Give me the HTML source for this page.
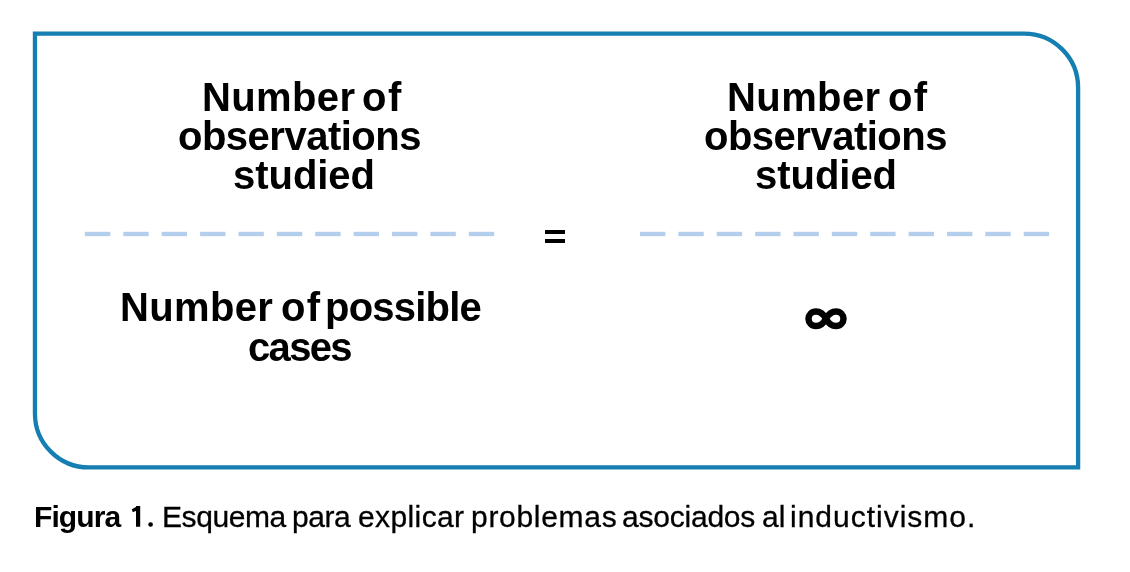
<!DOCTYPE html>
<html>
<head>
<meta charset="utf-8">
<style>
html,body{margin:0;padding:0;background:#fff;}
body{width:1130px;height:572px;position:relative;overflow:hidden;font-family:"Liberation Sans",sans-serif;color:#000;}
.a{position:absolute;left:0;top:0;}
span{position:absolute;white-space:nowrap;line-height:40px;will-change:transform;}
.b{font-weight:bold;}
.n{-webkit-text-stroke:0.3px #000;}
</style>
</head>
<body>
<svg class="a" width="1130" height="572" viewBox="0 0 1130 572"><path d="M34.95 33.55H1024.10A54 54 0 0 1 1078.1 87.55V467.45H88.95A54 54 0 0 1 34.95 413.45Z" fill="none" stroke="#167fb2" stroke-width="4.3"/></svg>
<svg class="a" width="1130" height="572" viewBox="0 0 1130 572"><g fill="#b4cfec"><rect x="84.90" y="231.8" width="25.4" height="4.4"/><rect x="123.29" y="231.8" width="25.4" height="4.4"/><rect x="161.68" y="231.8" width="25.4" height="4.4"/><rect x="200.07" y="231.8" width="25.4" height="4.4"/><rect x="238.46" y="231.8" width="25.4" height="4.4"/><rect x="276.85" y="231.8" width="25.4" height="4.4"/><rect x="315.24" y="231.8" width="25.4" height="4.4"/><rect x="353.63" y="231.8" width="25.4" height="4.4"/><rect x="392.02" y="231.8" width="25.4" height="4.4"/><rect x="430.41" y="231.8" width="25.4" height="4.4"/><rect x="468.80" y="231.8" width="25.4" height="4.4"/><rect x="640.00" y="231.8" width="25.4" height="4.4"/><rect x="678.37" y="231.8" width="25.4" height="4.4"/><rect x="716.74" y="231.8" width="25.4" height="4.4"/><rect x="755.11" y="231.8" width="25.4" height="4.4"/><rect x="793.48" y="231.8" width="25.4" height="4.4"/><rect x="831.85" y="231.8" width="25.4" height="4.4"/><rect x="870.22" y="231.8" width="25.4" height="4.4"/><rect x="908.59" y="231.8" width="25.4" height="4.4"/><rect x="946.96" y="231.8" width="25.4" height="4.4"/><rect x="985.33" y="231.8" width="25.4" height="4.4"/><rect x="1023.70" y="231.8" width="25.4" height="4.4"/><rect x="545" y="230" width="20" height="4" fill="#000"/><rect x="545" y="239" width="20" height="4" fill="#000"/></g></svg>
<svg class="a" width="1130" height="572" viewBox="0 0 1130 572"><path d="M826 318.75C823.6 314.2 820 311.5 816 311.5C811.5 311.5 808.5 315 808.5 318.75C808.5 322.5 811.5 326 816 326C820 326 823.6 323.3 826 318.75C828.4 314.2 832 311.5 836 311.5C840.5 311.5 843.5 315 843.5 318.75C843.5 322.5 840.5 326 836 326C832 326 828.4 323.3 826 318.75Z" fill="none" stroke="#000" stroke-width="6.5"/></svg>
<svg class="a" width="1130" height="572" viewBox="0 0 1130 572"><path d="M136 505.9H140.2V526.8H136Z M131.8 509.2L137.8 505.9L138.6 509.7L132.8 512.3Z"/><circle cx="150.6" cy="524.5" r="2.35"/></svg>
<span class="b" id="l1_0" style="left:201.72px;top:76.51px;font-size:40px;letter-spacing:0.372px">Number</span>
<span class="b" id="l1_1" style="left:361.65px;top:76.51px;font-size:40px;letter-spacing:1.470px">of</span>
<span class="b" id="l2_0" style="left:178.27px;top:115.62px;font-size:40px;letter-spacing:-0.499px">observations</span>
<span class="b" id="l3_0" style="left:232.51px;top:155.43px;font-size:40px;letter-spacing:-0.040px">studied</span>
<span class="b" id="r1_0" style="left:726.72px;top:76.51px;font-size:40px;letter-spacing:0.408px">Number</span>
<span class="b" id="r1_1" style="left:887.65px;top:76.51px;font-size:40px;letter-spacing:1.200px">of</span>
<span class="b" id="r2_0" style="left:704.38px;top:115.62px;font-size:40px;letter-spacing:-0.505px">observations</span>
<span class="b" id="r3_0" style="left:754.84px;top:155.43px;font-size:40px;letter-spacing:-0.030px">studied</span>
<span class="b" id="b1_0" style="left:119.72px;top:286.90px;font-size:40px;letter-spacing:0.354px">Number</span>
<span class="b" id="b1_1" style="left:280.65px;top:286.90px;font-size:40px;letter-spacing:1.200px">of</span>
<span class="b" id="b1_2" style="left:324.61px;top:286.90px;font-size:40px;letter-spacing:-0.771px">possible</span>
<span class="b" id="b2_0" style="left:248.49px;top:326.64px;font-size:40px;letter-spacing:-1.672px">cases</span>
<span class="b" id="cb_0" style="left:34.00px;top:496.80px;font-size:30px;letter-spacing:-0.906px">Figura</span>
<span class="n" id="cr_0" style="left:161.62px;top:496.80px;font-size:30px;letter-spacing:-0.420px">Esquema</span>
<span class="n" id="cr_1" style="left:292.27px;top:496.80px;font-size:30px;letter-spacing:-0.460px">para</span>
<span class="n" id="cr_2" style="left:357.74px;top:496.80px;font-size:30px;letter-spacing:0.390px">explicar</span>
<span class="n" id="cr_3" style="left:470.84px;top:496.80px;font-size:30px;letter-spacing:0.705px">problemas</span>
<span class="n" id="cr_4" style="left:621.63px;top:496.80px;font-size:30px;letter-spacing:-0.221px">asociados</span>
<span class="n" id="cr_5" style="left:761.63px;top:496.80px;font-size:30px;letter-spacing:0.030px">al</span>
<span class="n" id="cr_6" style="left:790.38px;top:496.80px;font-size:30px;letter-spacing:0.992px">inductivismo.</span>
</body>
</html>
